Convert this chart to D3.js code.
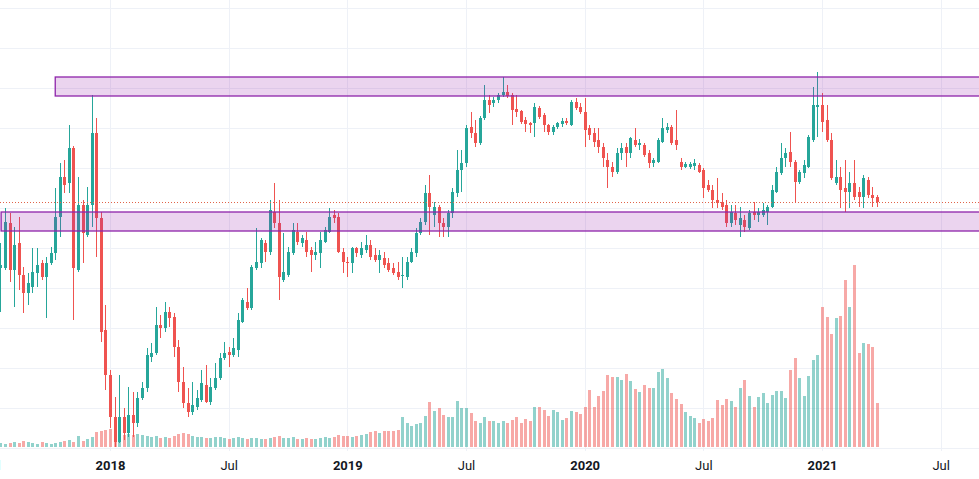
<!DOCTYPE html>
<html><head><meta charset="utf-8">
<script src="https://cdn.jsdelivr.net/npm/d3@7"></script>
<style>html,body{margin:0;padding:0;background:#fff;overflow:hidden}svg{display:block}</style>
</head><body><svg id="c" width="979" height="479"></svg>
<script>
// ---- data (weekly candles, arbitrary price units) ----
const firstWeek = "2017-07-17";
const opens = [180,180,225,178,205,173,155,161,175,185,171,185,195,231,271,265,300,178,243,213,
243,315,230,118,73,31,6,31,15,33,25,50,60,91,95,123,120,136,131,101,
66,45,36,41,48,63,46,60,70,90,96,93,98,126,146,140,180,185,205,196,
236,225,168,173,195,216,205,208,198,193,195,206,216,233,231,196,186,185,200,193,
198,203,193,188,190,185,180,176,172,171,186,195,215,226,255,233,241,225,221,235,
255,278,285,321,315,305,330,348,345,348,353,356,353,339,337,328,325,325,340,333,
323,316,321,324,327,323,346,341,336,320,315,308,301,288,281,276,295,301,295,308,
303,303,295,285,286,306,318,321,308,286,281,281,282,283,278,263,258,248,246,243,
225,235,223,228,220,236,233,233,236,241,256,275,290,296,286,266,275,281,308,341,
343,328,308,265,271,260,256,265,256,251,268,253,251];
const closes = [183,226,178,203,173,155,165,176,183,171,185,195,231,271,263,300,180,243,215,243,
315,230,116,73,31,6,31,15,33,25,50,60,93,95,123,120,136,130,101,66,
45,36,43,50,65,46,61,70,90,95,93,100,128,148,140,181,186,208,196,238,
225,171,176,196,218,206,210,196,193,196,208,218,231,230,196,186,185,200,195,200,
203,191,188,193,183,178,175,171,173,186,196,215,226,255,241,241,225,221,235,256,
278,285,320,315,305,330,348,343,348,353,356,352,338,336,326,324,323,341,331,323,
316,321,325,327,325,346,340,336,318,313,306,301,290,281,276,295,300,295,310,303,
305,293,285,288,308,320,321,305,303,281,284,284,285,276,260,258,248,245,241,225,
236,228,230,221,235,233,236,238,241,258,276,290,295,286,266,276,283,311,343,343,
326,308,270,271,258,256,265,251,251,270,253,250,246];
const highs = [205,240,235,221,231,181,175,200,200,188,191,201,260,285,288,323,302,271,248,261,
353,330,236,143,78,51,73,40,61,56,56,66,100,105,141,133,146,141,135,108,
81,60,66,58,78,83,70,85,95,106,101,110,135,150,160,183,220,210,208,248,
265,248,215,201,225,225,213,216,201,206,216,221,240,238,235,200,191,201,201,206,
213,208,200,198,196,190,185,186,191,191,200,220,230,263,273,246,243,230,238,260,
298,298,323,336,328,332,363,353,351,355,371,363,355,353,338,331,326,345,342,335,
324,323,326,330,330,348,350,345,350,323,320,320,305,295,286,300,305,305,311,320,
309,305,298,290,310,330,325,323,338,290,286,286,289,285,280,268,263,270,255,248,
243,243,241,233,238,246,240,245,243,263,281,305,300,316,288,278,288,313,361,376,
355,343,315,288,281,288,276,288,261,273,271,261,253];
const lows = [136,178,166,141,158,135,143,155,161,168,130,183,188,211,255,255,128,176,185,211,
221,191,106,58,20,1,5,8,11,11,21,48,56,86,93,110,116,121,91,56,
40,31,33,38,46,45,43,58,68,88,81,91,91,125,138,138,178,180,186,193,
220,148,166,171,193,203,201,191,176,188,180,205,215,225,195,175,171,175,191,190,
195,188,186,175,180,176,173,168,160,168,185,191,213,223,213,221,211,211,211,230,
251,256,281,310,301,303,328,335,341,345,351,350,323,331,324,316,315,311,329,316,
313,313,319,321,323,322,338,334,301,308,301,295,281,260,271,274,288,281,290,301,
298,291,280,281,285,305,315,303,298,278,280,279,278,275,250,256,240,240,238,221,
221,223,211,216,218,228,226,231,223,240,255,273,281,281,246,264,270,280,306,311,
316,306,268,263,240,236,240,248,241,240,250,241,241];
const volumes = [4,3,4,5,4,6,5,4,3,5,4,3,4,5,6,7,5,11,6,8,
10,15,16,17,18,21,14,12,13,12,13,12,11,10,11,9,10,9,11,13,
14,13,11,10,10,9,9,10,10,9,8,9,10,9,8,9,9,8,8,9,
10,11,9,9,10,8,8,9,8,8,9,10,9,10,12,11,11,10,11,12,
13,15,16,14,16,16,16,17,30,24,21,23,24,31,45,36,39,32,30,30,
46,39,39,34,26,24,30,26,26,24,26,24,27,30,24,28,26,40,40,37,
31,37,35,27,29,36,35,33,40,57,40,51,56,72,70,70,67,73,66,58,
55,62,59,59,75,78,69,54,48,43,35,31,29,24,28,26,29,47,42,48,
46,40,59,67,51,40,50,54,44,52,56,56,49,77,89,69,51,71,87,92,
140,130,113,129,131,167,140,182,94,104,103,100,44];
const tickLabels = ["Jul","2018","Jul","2019","Jul","2020","Jul","2021","Jul"];
const tickDates = ["2017-07-03","2018-01-01","2018-07-02","2018-12-31","2019-07-01","2019-12-30","2020-06-29","2020-12-28","2021-06-28"];
const priceGrid = [0,40,80,120,160,200,240,280,320,360,400,440];
const zoneUpper = [352, 371];
const zoneLower = [217, 236];
const zoneUpperStart = "2017-10-09";
const zoneLowerStart = "2017-07-18";
const zoneEnd = "2021-12-31";

// ---- drawing ----
const W = 979, H = 479;
const parse = d3.utcParse("%Y-%m-%d");
const svg = d3.select("#c");
const x = d3.scaleUtc().domain([parse("2018-01-01"), parse("2020-12-28")]).range([110, 822]);
const y = d3.scaleLinear().domain([0, 440]).range([448, 8]);
const yv = d3.scaleLinear().domain([0, 200]).range([447, 247]);
const start = parse(firstWeek);
const data = opens.map((o, i) => ({
  date: d3.utcMonday.offset(start, i), o, c: closes[i], h: highs[i], l: lows[i], v: volumes[i]
}));
const UP = "#26a69a", DN = "#ef5350";
const UPV = "rgba(38,166,154,0.5)", DNV = "rgba(239,83,80,0.5)";

// grid
const grid = svg.append("g");
grid.selectAll("line.h").data(priceGrid).join("line")
  .attr("x1", 0).attr("x2", W)
  .attr("y1", d => Math.round(y(d)) + 0.5).attr("y2", d => Math.round(y(d)) + 0.5)
  .attr("stroke", "#eef1f7").attr("stroke-width", 1);
grid.selectAll("line.v").data(tickDates.map(parse)).join("line")
  .attr("x1", d => Math.round(x(d)) + 0.5).attr("x2", d => Math.round(x(d)) + 0.5)
  .attr("y1", 0).attr("y2", 451)
  .attr("stroke", "#eef1f7").attr("stroke-width", 1);

// volume
svg.append("g").selectAll("rect").data(data).join("rect")
  .attr("x", d => Math.round(x(d.date)) - 1)
  .attr("width", 3)
  .attr("y", d => yv(d.v))
  .attr("height", d => yv(0) - yv(d.v))
  .attr("fill", d => d.c >= d.o ? UPV : DNV);

// candles
const cg = svg.append("g").selectAll("g").data(data).join("g");
cg.append("rect")
  .attr("x", d => Math.round(x(d.date)))
  .attr("width", 1)
  .attr("y", d => y(d.h))
  .attr("height", d => y(d.l) - y(d.h))
  .attr("fill", d => d.c >= d.o ? UP : DN);
cg.append("rect")
  .attr("x", d => Math.round(x(d.date)) - 1)
  .attr("width", 3)
  .attr("y", d => y(Math.max(d.o, d.c)))
  .attr("height", d => Math.max(1, Math.abs(y(d.o) - y(d.c))))
  .attr("fill", d => d.c >= d.o ? UP : DN);

// zones
const zones = [
  {lo: zoneUpper[0], hi: zoneUpper[1], s: parse(zoneUpperStart)},
  {lo: zoneLower[0], hi: zoneLower[1], s: parse(zoneLowerStart)}
];
svg.append("g").selectAll("rect").data(zones).join("rect")
  .attr("x", d => x(d.s))
  .attr("width", d => x(parse(zoneEnd)) - x(d.s))
  .attr("y", d => y(d.hi))
  .attr("height", d => y(d.lo) - y(d.hi))
  .attr("fill", "rgba(156,39,176,0.2)")
  .attr("stroke", "#8e24aa")
  .attr("stroke-width", 1.3);

// last price line
const last = closes[closes.length - 1];
svg.append("line")
  .attr("x1", 0).attr("x2", W)
  .attr("y1", Math.round(y(last)) + 0.5).attr("y2", Math.round(y(last)) + 0.5)
  .attr("stroke", "#e0644a").attr("stroke-width", 1).attr("stroke-dasharray", "1,2");

// time axis
const ax = d3.axisBottom(x)
  .tickValues(tickDates.map(parse))
  .tickFormat((d, i) => tickLabels[i])
  .tickSize(0).tickPadding(3);
const ag = svg.append("g").attr("transform", "translate(0,458)").call(ax);
ag.select(".domain").remove();
ag.attr("font-family", "Roboto, 'Liberation Sans', sans-serif").attr("font-size", 13);
ag.selectAll("text")
  .attr("fill", "#131722")
  .attr("font-weight", (d, i) => /^\d/.test(tickLabels[i]) ? 700 : 400);
</script>
</body></html>
